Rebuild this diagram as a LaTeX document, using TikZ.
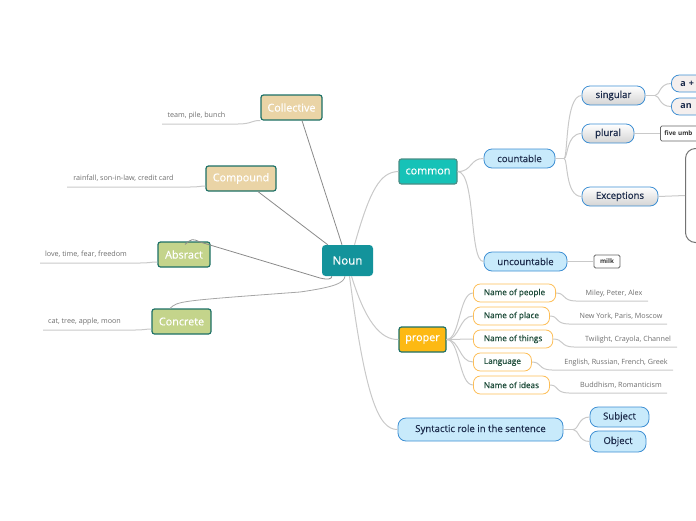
\documentclass[tikz,border=0pt]{standalone}
\usepackage{fontspec}
\setmainfont{Open Sans}
\newfontfamily\sbfont{Open Sans}[FakeBold=0.5]
\definecolor{tealN}{HTML}{13939B}
\definecolor{tealdk}{HTML}{1D7066}
\definecolor{tanc}{HTML}{EAD4A6}
\definecolor{olivec}{HTML}{C4D48B}
\definecolor{turq}{HTML}{16C2B7}
\definecolor{amber}{HTML}{FDB913}
\definecolor{lblue}{HTML}{C8EAFB}
\definecolor{bblue}{HTML}{3E8FD3}
\definecolor{navy}{HTML}{1C2B4B}
\definecolor{orng}{HTML}{FDBE57}
\definecolor{dgreen}{HTML}{1F4D3B}
\definecolor{lgray}{HTML}{C9C9C9}
\definecolor{dgray}{HTML}{8A8A8A}
\definecolor{labgray}{HTML}{6E6E6E}
\definecolor{pinkw}{HTML}{F4EFEE}
\begin{document}
\begin{tikzpicture}[x=1pt,y=-1pt,
  catbox/.style={draw=tealdk, line width=1.2pt, rounded corners=2.5pt, text=white,
    font=\sbfont\fontsize{10.8}{12}\selectfont, inner sep=0pt, minimum height=25pt},
  bluepill/.style={draw=bblue, fill=lblue, line width=0.8pt, rounded corners=8pt, text=navy,
    font=\sbfont\fontsize{9.6}{11}\selectfont, inner sep=0pt},
  graypill/.style={draw=bblue, top color=white, bottom color=black!17, line width=0.8pt,
    rounded corners=8pt, text=navy, font=\sbfont\fontsize{9.6}{11}\selectfont, inner sep=0pt, minimum height=19pt},
  artpill/.style={draw=bblue, fill=pinkw, line width=0.8pt, rounded corners=8pt, text=navy,
    font=\bfseries\fontsize{9}{10}\selectfont, anchor=west, inner xsep=9pt, inner ysep=0pt,
    minimum height=17pt, text width=40pt, align=left},
  orpill/.style={draw=orng, fill=white, line width=0.8pt, rounded corners=7pt, text=dgreen,
    font=\sbfont\fontsize{8.2}{9}\selectfont, inner xsep=10.5pt, inner ysep=0pt, minimum height=18pt, anchor=west},
  exbox/.style={draw=black!60, fill=white, line width=0.8pt, rounded corners=1.5pt, text=black!80,
    font=\bfseries\fontsize{6.3}{7}\selectfont, inner sep=0pt},
  lab/.style={text=labgray, font=\fontsize{7.2}{8}\selectfont, inner sep=0pt},
  lcon/.style={draw=dgray, line width=0.8pt},
  rcon/.style={draw=lgray, line width=1pt},
  ucon/.style={draw=lgray, line width=1pt}]
\useasboundingbox (0,0) rectangle (696,520);
\clip (0,0) rectangle (696,520);

% central
\node[fill=tealN, rounded corners=3.5pt, text=white, font=\sbfont\fontsize{11.5}{13}\selectfont,
  minimum width=51pt, minimum height=31pt, inner sep=0pt] (noun) at (347.5,260.5) {Noun};

% left categories
\node[catbox, fill=tanc, minimum width=61pt] (coll) at (291.5,107.5) {Collective};
\node[catbox, fill=tanc, minimum width=70pt] (comp) at (241,178.5) {Compound};
\node[catbox, fill=olivec, minimum width=52pt] (abs) at (184,254.5) {Absract};
\node[catbox, fill=olivec, minimum width=59pt] (conc) at (181.5,321.5) {Concrete};

% left labels
\node[lab] (lcoll) at (196.5,115.5) {team, pile, bunch};
\node[lab] (lcomp) at (123.5,178.5) {rainfall, son-in-law, credit card};
\node[lab] (labs) at (86,254.5) {love, time, fear, freedom};
\node[lab] (lconc) at (84.5,321.5) {cat, tree, apple, moon};
\coordinate (ucoll) at (162,124);
\coordinate (ucomp) at (67,187);
\coordinate (uabs) at (40,263);
\coordinate (uconc) at (43,330);

\draw[ucon] (ucoll) -- (238,124) .. controls (252,124) and (252,120) .. (coll.south west);
\draw[ucon] (ucomp) -- (190,187) .. controls (200,187) and (200,186) .. (comp.west|-0,186);
\draw[ucon] (uabs) -- (140,263) .. controls (150,263) and (150,262) .. (abs.west|-0,262);
\draw[ucon] (uconc) -- (135,330) .. controls (145,330) and (145,329) .. (conc.west|-0,329);

% left connectors
\draw[lcon] ([xshift=10.5pt]coll.south) -- ([xshift=-5.5pt]noun.north);
\draw[lcon] ([xshift=17pt]comp.south) -- ([xshift=6pt]noun.north west);
\draw[lcon] ([xshift=1pt,yshift=-3pt]abs.north) .. controls (192,238.5) .. (200,242) -- (320,278)
  .. controls (328,280) and (332,279) .. ([xshift=10pt]noun.south west);
\draw[ucon, draw=black!35, line width=0.8pt] ([xshift=-11.5pt]conc.north) .. controls (178,301) .. (300,292)
  .. controls (335,287) and (344,283) .. ([xshift=-2.5pt]noun.south);

% right main categories
\node[catbox, fill=turq, draw=tealdk!80, minimum width=58pt] (common) at (428,171.5) {common};
\node[catbox, fill=amber, minimum width=47pt] (proper) at (422.5,339.5) {proper};
\node[bluepill, minimum width=165pt, minimum height=23pt] (synt) at (480.5,429.5) {Syntactic role in the sentence};

\draw[rcon] ([xshift=7pt]noun.north) .. controls (370,190) and (380,172) .. (common.west);
\draw[rcon] ([xshift=4pt]noun.south) .. controls (365,320) and (380,340) .. (proper.west);
\draw[rcon] ([xshift=2pt]noun.south) .. controls (365,395) and (378,430) .. (synt.west);

% common subtree
\node[bluepill, minimum width=71pt, minimum height=19pt] (count) at (519.5,158.5) {countable};
\node[bluepill, minimum width=83pt, minimum height=19pt] (uncount) at (525.5,261.5) {uncountable};
\node[exbox, minimum width=26pt, minimum height=13pt] (milk) at (607,261.5) {milk};
\draw[rcon] (common.east) .. controls (472,172) and (470,158) .. (count.west);
\draw[rcon] (common.east) .. controls (476,172) and (469,262) .. (uncount.west);
\draw[rcon] (uncount.east) -- (milk.west);

\node[graypill, minimum width=63pt] (sing) at (613.5,95.5) {singular};
\node[graypill, minimum width=52pt] (plur) at (608,133.5) {plural};
\node[graypill, minimum width=76pt] (exc) at (620,196.5) {Exceptions};
\coordinate (cb) at (564,158.5);
\draw[rcon] (count.east) -- (cb);
\draw[rcon] (cb) .. controls (568,158.5) and (565,95.5) .. (sing.west);
\draw[rcon] (cb) .. controls (568,158.5) and (566,133.5) .. (plur.west);
\draw[rcon] (cb) .. controls (568,158.5) and (565,196.5) .. (exc.west);

\node[artpill] (aplus) at (671,83.5) {a +};
\node[artpill] (an) at (671,106.5) {an};
\coordinate (sb) at (655,95.5);
\draw[rcon] (sing.east) -- (sb);
\draw[rcon] (sb) .. controls (660,95.5) and (659,83.5) .. (aplus.west);
\draw[rcon] (sb) .. controls (660,95.5) and (659,106.5) .. (an.west);

\node[exbox, anchor=west, inner xsep=4pt, minimum height=15pt, text width=60pt, align=left] (five) at (660,133.5) {five umb};
\draw[rcon] (plur.east) -- (five.west);
\node[draw=black!55, fill=white, line width=1pt, rounded corners=10pt, anchor=north west,
  minimum width=60pt, minimum height=94pt, inner sep=0pt] (bigbox) at (685,148) {};
\draw[rcon] (exc.east) -- (bigbox.west);

% proper subtree
\node[orpill] (pp) at (473,293) {Name of people};
\node[orpill] (pl) at (473,316) {Name of place};
\node[orpill] (pt) at (473,339) {Name of things};
\node[orpill] (pg) at (473,362) {Language};
\node[orpill] (pi) at (473,385) {Name of ideas};
\foreach \n in {pp,pl,pt,pg,pi}{
  \draw[rcon] (proper.east) .. controls (460,339.5) and (459,0|-\n.west) .. (\n.west);
}
\node[lab] (lpp) at (614,293.5) {Miley, Peter, Alex};
\node[lab] (lpl) at (621,316.5) {New York, Paris, Moscow};
\node[lab] (lpt) at (628,339.5) {Twilight, Crayola, Channel};
\node[lab] (lpg) at (616,362.5) {English, Russian, French, Greek};
\node[lab] (lpi) at (621,385.5) {Buddhism, Romanticism};
\coordinate (epp) at (648,301);
\coordinate (epl) at (667,324);
\coordinate (ept) at (677,347);
\coordinate (epg) at (673,370);
\coordinate (epi) at (667,393);
\draw[ucon] (pp.east) .. controls (566,293) and (562,301) .. (576,301) -- (epp);
\draw[ucon] (pl.east) .. controls (559,316) and (555,324) .. (569,324) -- (epl);
\draw[ucon] (pt.east) .. controls (564,339) and (560,347) .. (574,347) -- (ept);
\draw[ucon] (pg.east) .. controls (542,362) and (538,370) .. (552,370) -- (epg);
\draw[ucon] (pi.east) .. controls (559,385) and (555,393) .. (569,393) -- (epi);

% syntactic subtree
\node[bluepill, minimum width=59pt, minimum height=20pt] (subj) at (619.5,417) {Subject};
\node[bluepill, minimum width=56pt, minimum height=21pt] (obj) at (618,441.5) {Object};
\coordinate (syb) at (573,429.5);
\draw[rcon] (synt.east) -- (syb);
\draw[rcon] (syb) .. controls (579,429.5) and (578,417) .. (subj.west);
\draw[rcon] (syb) .. controls (579,429.5) and (578,441.5) .. (obj.west);
\end{tikzpicture}
\end{document}
